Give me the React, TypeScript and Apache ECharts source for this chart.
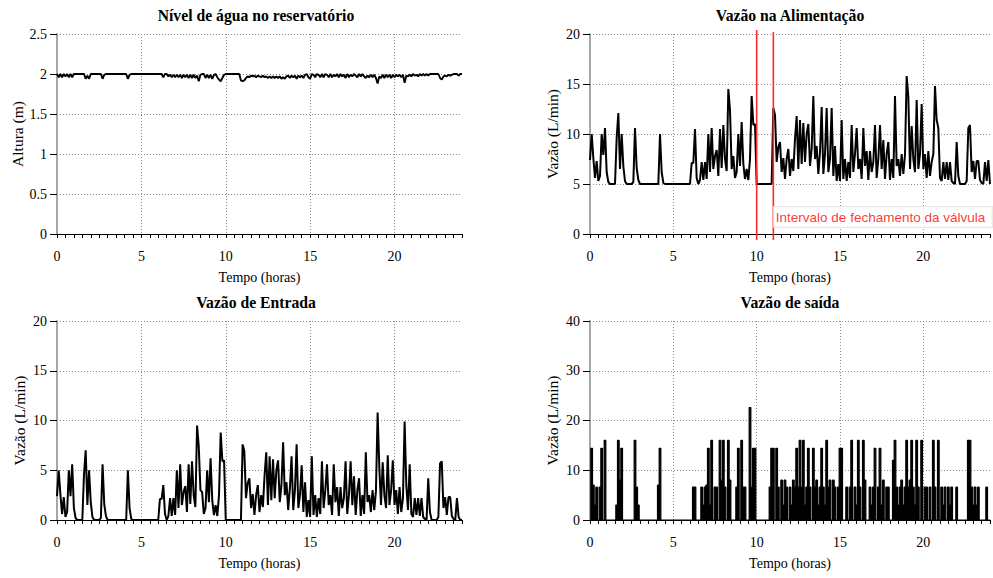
import React, { useEffect, useRef } from "react";
import * as echarts from "echarts";

// Samples every 0.1 h, from 0 h to 24 h (241 values per series)
const STEP_HOURS = 0.1;

const nivel = [
  2, 1.96, 2, 1.96, 2, 1.97, 2, 1.96, 2, 1.96,
  2, 2, 2, 2, 2, 2, 2, 1.94, 1.98, 1.94,
  2, 2, 2, 2, 2, 2, 2, 1.94, 1.99, 2,
  2, 2, 2, 2, 2, 2, 2, 2, 2, 2,
  2, 2, 1.94, 1.99, 2, 2, 2, 2, 2, 2,
  2, 2, 2, 2, 2, 2, 2, 2, 2, 2,
  2, 2, 2, 1.96, 2, 2, 1.97, 1.99, 1.96, 1.99,
  1.96, 1.99, 1.96, 1.99, 1.95, 1.99, 1.96, 1.99, 1.95, 1.99,
  1.95, 1.99, 1.95, 1.98, 1.91, 1.99, 2, 2, 1.95, 1.99,
  1.95, 1.99, 1.94, 1.99, 2, 1.96, 1.93, 1.91, 1.95, 1.99,
  2, 2, 2, 2, 2, 2, 2, 2, 2, 1.92,
  1.91, 1.92, 1.95, 1.97, 1.96, 1.98, 1.97, 1.98, 1.96, 1.98,
  1.97, 1.96, 1.98, 1.96, 1.97, 1.95, 1.97, 1.95, 1.97, 1.95,
  1.97, 1.95, 1.97, 1.94, 1.96, 1.94, 1.97, 1.98, 1.95, 1.98,
  1.96, 1.98, 1.94, 1.98, 1.96, 1.98, 1.95, 1.99, 2, 1.96,
  1.94, 2, 1.99, 1.96, 2, 1.99, 1.96, 2, 1.96, 2,
  1.99, 1.96, 2, 1.96, 1.99, 1.97, 2, 1.96, 2, 1.97,
  1.99, 1.95, 2, 1.96, 1.99, 1.97, 2, 1.98, 1.96, 2,
  1.97, 2, 1.97, 1.95, 1.98, 1.96, 1.99, 1.96, 1.99, 1.95,
  1.88, 1.97, 1.95, 1.99, 1.95, 1.99, 1.96, 1.99, 1.95, 1.99,
  1.96, 1.99, 1.97, 1.99, 1.96, 1.99, 1.89, 1.98, 1.97, 1.99,
  1.97, 2, 1.98, 1.99, 1.97, 2, 1.98, 2, 1.98, 2,
  1.98, 2, 2, 2, 2, 2, 2, 1.95, 1.93, 1.97,
  1.98, 1.97, 1.99, 1.98, 1.99, 2, 2, 2, 1.98, 2,
  2,
];

const alimentacao = [
  7.4, 10, 7.6, 5.6, 7.3, 5.3, 5.8, 10, 7.9, 10.6,
  6.2, 5.2, 5, 5, 5, 5, 9.6, 12.1, 6.5, 10,
  6.8, 5.3, 5, 5, 5, 5, 5.2, 10.6, 6.6, 5.4,
  5, 5, 5, 5, 5, 5, 5, 5, 5, 5,
  5, 5, 10, 6.2, 5.1, 5, 5, 5, 5, 5,
  5, 5, 5, 5, 5, 5, 5, 5, 5, 5,
  5, 7.1, 7.1, 10.5, 5.6, 5, 5.4, 7.2, 5.4, 7.2,
  5.5, 10, 6.2, 10.6, 6.5, 7.8, 8.4, 5.8, 10.5, 6.6,
  10.9, 7.5, 6.3, 14.5, 12.4, 6.5, 7.8, 5.6, 6.2, 10,
  6.8, 11.2, 7, 5.5, 6.5, 5.4, 7.5, 13.8, 10.9, 11,
  5, 5, 5, 5, 5, 5, 5, 5, 5, 5,
  12.6, 11.9, 7.2, 8.7, 9.2, 6.2, 7.6, 5.5, 7.5, 8.5,
  5.8, 7.5, 6.3, 9.5, 11.8, 6.5, 11.4, 7, 11.1, 7.2,
  10, 11, 6.8, 8.5, 13.8, 7.5, 8.8, 6, 8.2, 12.7,
  6, 8, 12.6, 6.2, 7.5, 12.6, 5.8, 8.8, 5.3, 7,
  5.3, 11.4, 5.5, 7.5, 5.3, 7.2, 5.6, 10.9, 6.2, 8,
  10.6, 6.5, 7.5, 5.5, 10.6, 6.8, 8.3, 5.4, 8.3, 6.2,
  7.2, 10.9, 5.6, 7.5, 10.9, 6.5, 9.4, 5.5, 8, 9.2,
  5.4, 7.5, 5.6, 13.8, 6.8, 7.5, 5.8, 8, 6, 7.9,
  15.8, 13.7, 6.5, 10.8, 7.5, 6.2, 13.4, 6.5, 8, 13,
  6.5, 8, 5.6, 8.3, 5.8, 7.2, 8, 14.8, 11.4, 10.6,
  5.6, 5.3, 7.2, 5.5, 7.2, 5.4, 7.2, 5.3, 5.1, 5,
  9.2, 5.8, 5, 5, 5, 5, 5.3, 10.6, 10.9, 6.2,
  7.3, 5.5, 7.3, 7.3, 5.4, 5.1, 5, 7.2, 5.3, 7.4,
  5,
];

const entrada = [
  2.4, 5, 2.6, 0.6, 2.3, 0.3, 0.8, 5, 2.4, 5.6,
  1.2, 0.2, 0, 0, 0, 0, 4.6, 7, 1.5, 5,
  1.8, 0.3, 0, 0, 0, 0, 0.2, 5.6, 1.6, 0.4,
  0, 0, 0, 0, 0, 0, 0, 0, 0, 0,
  0, 0, 5, 1.2, 0.1, 0, 0, 0, 0, 0,
  0, 0, 0, 0, 0, 0, 0, 0, 0, 0,
  0, 2.1, 2.1, 3.5, 0.6, 0, 0.4, 2.2, 0.4, 2.2,
  0.5, 5, 1.2, 5.6, 1.5, 2.8, 3.4, 0.8, 5.6, 1.6,
  5.9, 2.5, 1.3, 9.5, 7.4, 3, 2.8, 0.6, 1.2, 5,
  1.8, 6.2, 2, 0.5, 1.5, 0.4, 2.5, 8.8, 5.9, 6,
  0, 0, 0, 0, 0, 0, 0, 0, 0, 0,
  7.6, 6.9, 2.2, 3.7, 4.2, 1.2, 2.6, 0.5, 2.5, 3.5,
  0.8, 2.5, 1.3, 4.5, 6.8, 1.5, 6.4, 2, 6.1, 2.2,
  5, 6, 1.8, 3.5, 7.8, 2.5, 3.8, 1, 3.2, 6.4,
  1, 3, 7.6, 1.2, 2.5, 5.5, 0.8, 3.8, 0.3, 2,
  0.3, 6.4, 0.5, 2.5, 0.3, 2.2, 0.6, 5.9, 1.2, 3,
  5.6, 1.5, 2.5, 0.5, 5.6, 1.8, 3.3, 0.4, 3.3, 1.2,
  2.2, 5.9, 0.6, 2.5, 5.9, 1.5, 4.4, 0.5, 3, 4.2,
  0.4, 2.5, 0.6, 6.8, 1.8, 2.5, 0.8, 3, 1, 2.9,
  10.8, 5.3, 1.5, 5.8, 2.5, 1.2, 6.5, 1.5, 3, 6,
  1.5, 3, 0.6, 3.3, 0.8, 2.2, 9.9, 3.5, 1, 5.6,
  0.6, 0.3, 2.2, 0.5, 2.2, 0.4, 2.2, 0.3, 0.1, 0,
  4.2, 0.8, 0, 0, 0, 0, 0.3, 5.7, 5.9, 1.2,
  2.3, 0.5, 2.3, 2.3, 0.4, 0.1, 0, 2.2, 0.3, 0,
  0,
];

const saida = [
  0, 14.4, 7, 3, 6.6, 0, 6.6, 14.4, 0, 16,
  0, 0, 0, 0, 0, 0, 3, 16, 8, 14.4,
  0, 0, 0, 0, 0, 0, 0, 16, 6.6, 3,
  0, 0, 0, 0, 0, 0, 0, 0, 0, 0,
  0, 7, 14.4, 0, 0, 0, 0, 0, 0, 0,
  0, 0, 0, 0, 0, 0, 0, 0, 0, 0,
  0, 0, 6.6, 6.6, 0, 0, 0, 6.6, 3, 6.6,
  7, 14.4, 3, 16, 0, 6.6, 6.6, 0, 16, 8,
  16, 6.6, 0, 16, 8, 0, 0, 0, 6.6, 14.4,
  0, 16, 6.6, 6.6, 0, 0, 22.6, 6.6, 14.4, 14.4,
  0, 0, 0, 0, 0, 0, 0, 0, 6.6, 14.4,
  14.4, 0, 14.4, 6.6, 0, 8, 3, 8, 6.6, 0,
  6.6, 3, 8, 6.6, 14.4, 6.6, 16, 6.6, 16, 3,
  6.6, 14.4, 6.6, 0, 14.4, 6.6, 8, 3, 6.6, 14.4,
  6.6, 3, 16, 6.6, 8, 0, 8, 6.6, 0, 6.6,
  14.4, 14.4, 0, 0, 6.6, 0, 6.6, 16, 0, 6.6,
  3, 16, 6.6, 0, 16, 8, 0, 0, 6.6, 3,
  6.6, 14.4, 0, 6.6, 14.4, 3, 8, 0, 6.6, 6.6,
  0, 0, 12, 16, 6.6, 3, 6.6, 8, 3, 6.6,
  16, 6.6, 8, 16, 6.6, 3, 16, 6.6, 0, 16,
  0, 6.6, 6.6, 0, 6.6, 0, 16, 6.6, 0, 16,
  0, 6.6, 3, 6.6, 0, 6.6, 3, 6.6, 0, 0,
  6.6, 0, 0, 0, 0, 0, 0, 16, 16, 6.6,
  3, 6.6, 3, 6.6, 0, 0, 0, 0, 6.6, 0,
  0,
];

const titles = [
  "Nível de água no reservatório",
  "Vazão na Alimentação",
  "Vazão de Entrada",
  "Vazão de saída",
];
const yNames = ["Altura (m)", "Vazão (L/min)", "Vazão (L/min)", "Vazão (L/min)"];
const yMax = [2.5, 20, 20, 40];
const yInterval = [0.5, 5, 5, 10];
const xName = "Tempo (horas)";
const X_MAX = 24;
const valveStart = 10;
const valveEnd = 11;
const valveLineSpan = [-0.6, 20.4];
const annotationText = "Intervalo de fechamento da válvula";
const annotationPoint = [11, 1.7];

const SERIF = "'Liberation Serif', 'Times New Roman', serif";

const toPairs = (vals: number[]) =>
  vals.map((v, i) => [Math.round(i * STEP_HOURS * 10) / 10, v]);

const gridBoxes = [
  { left: 57, top: 34, width: 405, height: 200 },
  { left: 590, top: 34, width: 405, height: 200 },
  { left: 57, top: 321, width: 405, height: 199 },
  { left: 590, top: 321, width: 405, height: 199 },
];
const titlePos = [
  [256, 15],
  [790, 15],
  [256, 302],
  [790, 302],
];

const dotted = { color: "#8c8c8c", type: [1, 2] as number[], width: 1 };

function buildOption() {
  const xAxis: any[] = [];
  const yAxis: any[] = [];
  gridBoxes.forEach((_, i) => {
    xAxis.push({
      type: "value",
      gridIndex: i,
      min: 0,
      max: X_MAX,
      interval: 0.5,
      name: xName,
      nameLocation: "middle",
      nameGap: 36,
      nameTextStyle: { fontFamily: SERIF, fontSize: 14, color: "#000" },
      axisLine: { show: true, onZero: false, lineStyle: { color: "#000", width: 1 } },
      axisTick: { show: true, length: 4, lineStyle: { color: "#000", width: 1 } },
      axisLabel: {
        fontFamily: SERIF,
        fontSize: 14,
        color: "#000",
        margin: 15,
        formatter: (v: number) => (v % 5 === 0 && v < X_MAX ? String(v) : ""),
      },
      splitLine: { show: false },
    });
    xAxis.push({
      type: "value",
      gridIndex: i,
      min: 0,
      max: X_MAX,
      interval: 5,
      position: "bottom",
      axisLine: { show: false },
      axisTick: { show: false },
      axisLabel: { show: false },
      splitLine: { show: true, showMinLine: false, showMaxLine: false, lineStyle: dotted },
    });
    yAxis.push({
      type: "value",
      gridIndex: i,
      min: 0,
      max: yMax[i],
      interval: yInterval[i],
      name: yNames[i],
      nameLocation: "middle",
      nameGap: 30,
      nameTextStyle: { fontFamily: SERIF, fontSize: 15.5, color: "#000" },
      axisLine: { show: true, lineStyle: { color: "#a6a6a6", width: 2 } },
      axisTick: { show: true, length: 7, lineStyle: { color: "#000", width: 1 } },
      axisLabel: { fontFamily: SERIF, fontSize: 14, color: "#000", margin: 10 },
      splitLine: { show: true, showMinLine: false, lineStyle: dotted },
    });
  });

  const lineSeries = (data: number[], g: number, extra: any = {}) => ({
    type: "line",
    xAxisIndex: g * 2,
    yAxisIndex: g,
    data: toPairs(data),
    symbol: "none",
    lineStyle: { color: "#000", width: 2 },
    z: 3,
    ...extra,
  });

  const series: any[] = [
    lineSeries(nivel, 0, { lineStyle: { color: "#000", width: 1.9 } }),
    lineSeries(alimentacao, 1),
    lineSeries(entrada, 2),
    lineSeries(saida, 3, {
      step: "middle",
      lineStyle: { color: "#000", width: 1.2 },
      areaStyle: { color: "#000", opacity: 1 },
    }),
    {
      type: "line",
      xAxisIndex: 2,
      yAxisIndex: 1,
      data: [
        [valveStart, valveLineSpan[0]],
        [valveStart, valveLineSpan[1]],
      ],
      symbol: "none",
      clip: false,
      lineStyle: { color: "#ff2a2a", width: 1.6 },
      z: 5,
    },
    {
      type: "line",
      xAxisIndex: 2,
      yAxisIndex: 1,
      data: [
        [valveEnd, valveLineSpan[0]],
        [valveEnd, valveLineSpan[1] - 0.2],
      ],
      symbol: "none",
      clip: false,
      lineStyle: { color: "#ff2a2a", width: 1.6 },
      z: 5,
    },
    {
      type: "scatter",
      xAxisIndex: 2,
      yAxisIndex: 1,
      data: [annotationPoint],
      symbolSize: 1,
      clip: false,
      itemStyle: { color: "rgba(0,0,0,0)" },
      z: 6,
      label: {
        show: true,
        position: "right",
        distance: 0,
        formatter: annotationText,
        color: "#ff0000",
        fontFamily: "'Liberation Sans', Arial, sans-serif",
        fontSize: 13.5,
        backgroundColor: "#ffffff",
        borderColor: "#e0e0e0",
        borderWidth: 1,
        padding: [3, 0, 3, 2],
        width: 216,
        overflow: "none",
      },
    },
  ];

  const graphic = titles.map((t, i) => ({
    type: "text",
    x: titlePos[i][0],
    y: titlePos[i][1],
    silent: true,
    style: {
      text: t,
      fontFamily: SERIF,
      fontSize: 15.7,
      fontWeight: "bold",
      fill: "#000",
      align: "center",
      verticalAlign: "middle",
      textAlign: "center",
      textVerticalAlign: "middle",
    },
  }));

  return {
    animation: false,
    backgroundColor: "#ffffff",
    grid: gridBoxes.map((b) => ({ ...b, containLabel: false })),
    xAxis,
    yAxis,
    series,
    graphic,
  };
}

export default function App() {
  const ref = useRef<HTMLDivElement>(null);
  useEffect(() => {
    if (!ref.current) return;
    const chart = echarts.init(ref.current, undefined, { renderer: "svg" });
    chart.setOption(buildOption() as any);
    return () => chart.dispose();
  }, []);
  return (
    <div
      ref={ref}
      style={{
        position: "fixed",
        left: 0,
        top: 0,
        width: 993,
        height: 578,
        overflow: "hidden",
        background: "#fff",
      }}
    />
  );
}
